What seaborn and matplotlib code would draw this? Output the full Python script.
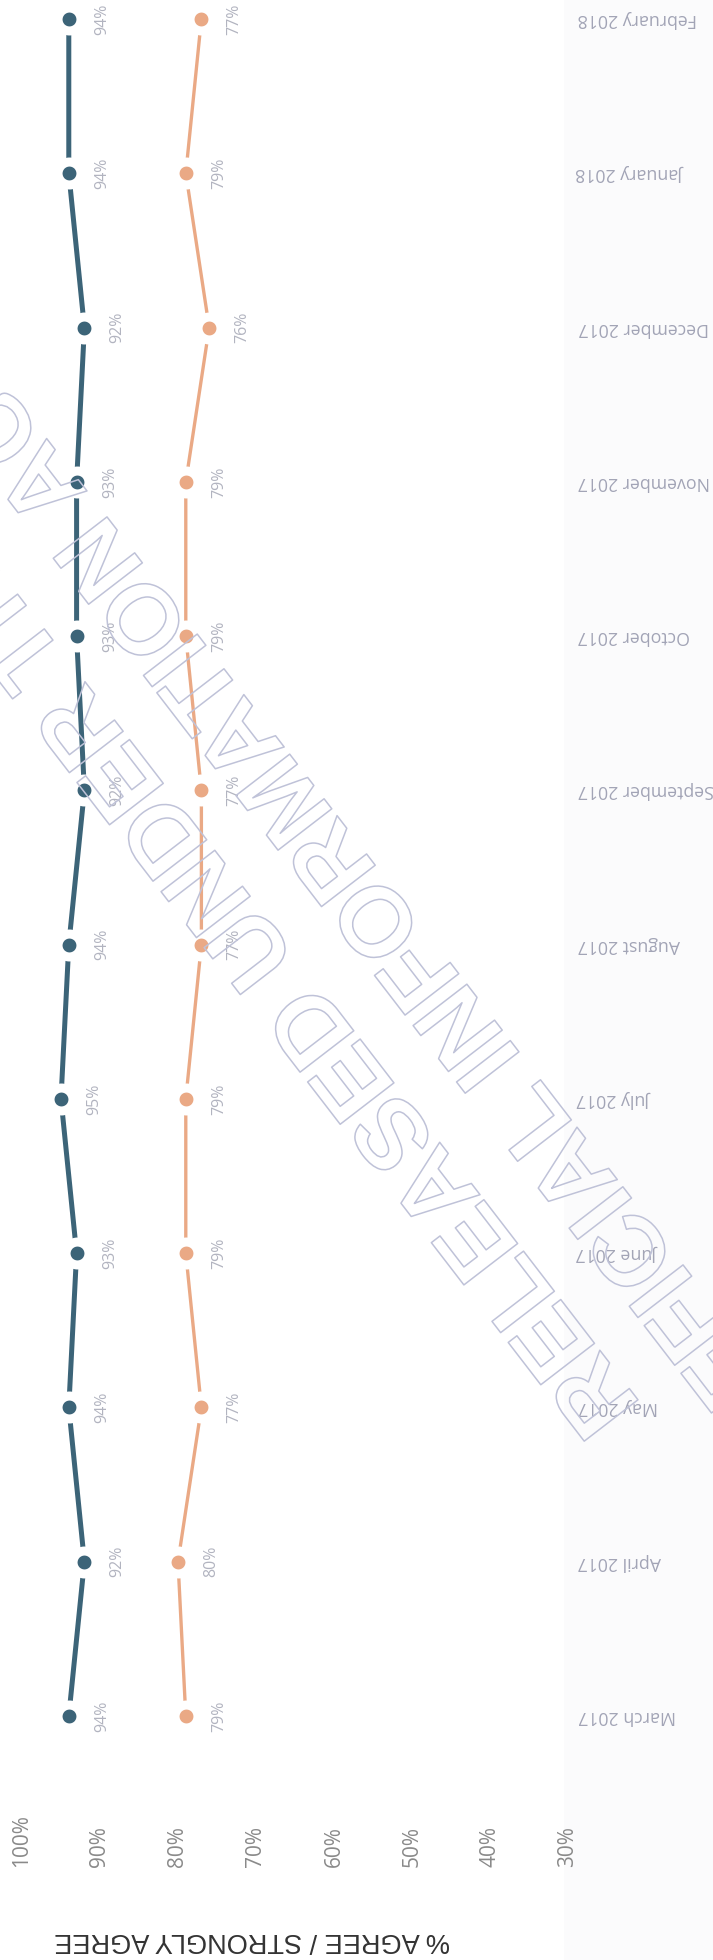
import matplotlib
matplotlib.use("Agg")
import numpy as np
import pandas as pd
import matplotlib.pyplot as plt
import matplotlib.patheffects as pe
from matplotlib.patches import Rectangle
from matplotlib.transforms import blended_transform_factory
import seaborn as sns

# ---- data -------------------------------------------------------------
months = ["March 2017", "April 2017", "May 2017", "June 2017", "July 2017",
          "August 2017", "September 2017", "October 2017", "November 2017",
          "December 2017", "January 2018", "February 2018"]
series_top = [94, 92, 94, 93, 95, 94, 92, 93, 93, 92, 94, 94]
series_low = [79, 80, 77, 79, 79, 77, 77, 79, 79, 76, 79, 77]
value_ticks = [100, 90, 80, 70, 60, 50, 40, 30]
axis_title = "% AGREE / STRONGLY AGREE"
stamp_lines = ["RELEASED UNDER THE", "OFFICIAL INFORMATION ACT"]

# ---- style ------------------------------------------------------------
sns.set_theme(style="white")
plt.rcParams["font.family"] = ["Open Sans", "DejaVu Sans"]

DARK = "#3c6478"
ORANGE = "#eaa985"
LABEL_GREY = "#b2b4c0"
MONTH_GREY = "#a2a4b6"
TICK_GREY = "#8a8a8a"
STAMP = "#bfc2d8"

W, H = 713, 1960
fig = plt.figure(figsize=(W / 100, H / 100), dpi=100)
fig.patch.set_facecolor("white")

# faint panel behind the month labels (drawn beneath the axes)
fig.patches.append(Rectangle((564 / W, 0), 1 - 564 / W, 1, transform=fig.transFigure,
                             facecolor="#fbfbfc", edgecolor="none", zorder=-5))

ax = fig.add_axes([0, 0, 564 / W, 1])
ax.set_facecolor("none")

idx = np.arange(len(months))
df_top = pd.DataFrame({"value": series_top, "month": idx})
df_low = pd.DataFrame({"value": series_low, "month": idx})

common = dict(x="value", y="month", orient="y", estimator=None, sort=True,
              marker="o", markersize=16.5, markeredgecolor="white",
              markeredgewidth=6.5, legend=False, ax=ax)
sns.lineplot(data=df_top, color=DARK, linewidth=3.6, **common)
sns.lineplot(data=df_low, color=ORANGE, linewidth=2.4, **common)

# value axis runs right-to-left, time runs bottom-to-top
ax.set_xlim(102.82, 30.51)
ax.set_ylim(-1.5817, 11.1234)
ax.set_xlabel("")
ax.set_ylabel("")
sns.despine(ax=ax, left=True, bottom=True, right=True, top=True)
ax.set_xticks([])

# month labels on the right, upside down
ax.set_yticks(idx, labels=months)
ax.yaxis.tick_right()
ax.tick_params(axis="y", length=0, pad=10, labelsize=12.8,
               labelcolor=MONTH_GREY, labelrotation=180)
for t in ax.yaxis.get_major_ticks():
    t.label2.set_ha("left")
    t.label2.set_va("center")

# point value labels
for vals in (series_top, series_low):
    for i, v in enumerate(vals):
        ax.annotate(f"{v}%", xy=(v, i), xytext=(24, 0), textcoords="offset points",
                    rotation=90, ha="center", va="center", fontsize=11.5,
                    color=LABEL_GREY)

# percentage scale along the bottom
trans = blended_transform_factory(ax.transData, ax.transAxes)
for v in value_ticks:
    ax.text(v, 93 / H, f"{v}%", transform=trans, rotation=90, ha="center",
            va="bottom", fontsize=15, color=TICK_GREY)

fig.text(252 / W, 1 - 1940 / H, axis_title, rotation=180, ha="center", va="center",
         fontsize=19.5, color="#333333", family=["Liberation Sans", "DejaVu Sans"])

# outlined release stamp across the chart
ang = 127.6
rad = np.deg2rad(ang)
along = np.array([np.cos(rad), -np.sin(rad)])        # reading direction, image px
down = np.array([np.sin(rad), np.cos(rad)])          # towards next line, image px
anchor1 = np.array([642.0, 1405.0])
anchor2 = anchor1 - 132 * along + 118 * down
for s, a in zip(stamp_lines, (anchor1, anchor2)):
    fig.text(a[0] / W, 1 - a[1] / H, s, rotation=ang, rotation_mode="anchor",
             ha="left", va="baseline", fontsize=71, fontweight="bold",
             family=["Liberation Sans", "DejaVu Sans"], color="none", zorder=10,
             path_effects=[pe.Stroke(linewidth=1.1, foreground=STAMP)])

fig.savefig("out.png", dpi=100, facecolor="white")
